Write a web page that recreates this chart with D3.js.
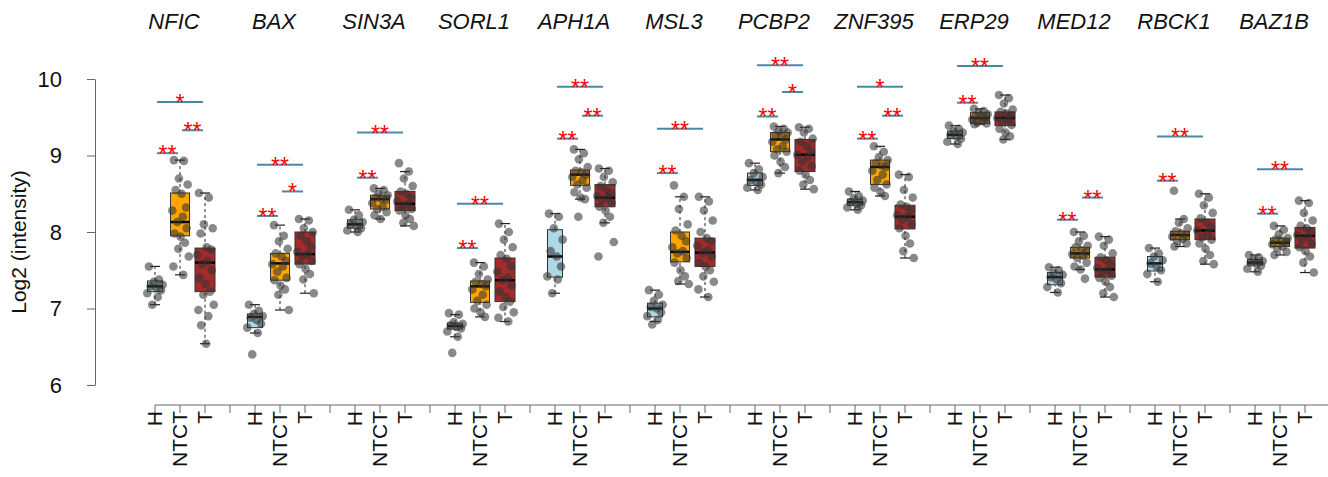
<!DOCTYPE html>
<html>
<head>
<meta charset="utf-8">
<script src="https://cdn.jsdelivr.net/npm/d3@7"></script>
<style>
  body { margin: 0; background: #fff; }
  text { font-family: "Liberation Sans", Arial, sans-serif; }
</style>
</head>
<body>
<svg id="chart" width="1328" height="477"></svg>
<script>
var genes = ["NFIC", "BAX", "SIN3A", "SORL1", "APH1A", "MSL3", "PCBP2", "ZNF395", "ERP29", "MED12", "RBCK1", "BAZ1B"];
var groups = ["H", "NTCT", "T"];
var yTicks = [6, 7, 8, 9, 10];

// box stats per gene: [lower whisker, q1, median, q3, upper whisker]
var statsH = [
    [7.05, 7.22, 7.29, 7.36, 7.55], [6.68, 6.75, 6.89, 6.93, 7.05], [8.00, 8.05, 8.10, 8.16, 8.29],
    [6.63, 6.73, 6.77, 6.81, 6.92], [7.20, 7.41, 7.68, 8.03, 8.24], [6.83, 6.89, 7.00, 7.07, 7.24],
    [8.55, 8.61, 8.68, 8.77, 8.90], [8.29, 8.35, 8.39, 8.43, 8.53], [9.15, 9.22, 9.27, 9.32, 9.39],
    [7.21, 7.31, 7.41, 7.47, 7.54], [7.35, 7.49, 7.59, 7.68, 7.79], [7.48, 7.57, 7.60, 7.64, 7.70]
];
var statsNTCT = [
    [7.44, 7.95, 8.13, 8.51, 8.94], [6.98, 7.37, 7.59, 7.72, 8.09], [8.17, 8.30, 8.43, 8.48, 8.57],
    [6.89, 7.08, 7.29, 7.36, 7.60], [8.43, 8.61, 8.75, 8.81, 9.08], [7.32, 7.61, 7.74, 8.00, 8.46],
    [8.77, 9.05, 9.21, 9.30, 9.38], [8.47, 8.62, 8.85, 8.94, 9.12], [9.41, 9.42, 9.49, 9.56, 9.61],
    [7.51, 7.66, 7.72, 7.80, 8.00], [7.81, 7.90, 7.96, 8.01, 8.17], [7.70, 7.81, 7.86, 7.92, 8.08]
];
var statsT = [
    [6.54, 7.22, 7.60, 7.79, 8.51], [7.20, 7.58, 7.71, 8.00, 8.17], [8.08, 8.28, 8.37, 8.53, 8.79],
    [6.83, 7.09, 7.37, 7.66, 8.11], [8.12, 8.33, 8.45, 8.62, 8.83], [7.15, 7.55, 7.73, 7.92, 8.46],
    [8.56, 8.79, 9.01, 9.21, 9.37], [7.66, 8.04, 8.20, 8.35, 8.75], [9.21, 9.39, 9.49, 9.57, 9.79],
    [7.15, 7.41, 7.51, 7.67, 7.94], [7.58, 7.90, 8.02, 8.17, 8.50], [7.47, 7.79, 7.95, 8.06, 8.41]
];

// individual samples per gene
var pointsH = [
    [7.55, 7.38, 7.35, 7.31, 7.29, 7.27, 7.24, 7.20, 7.15, 7.05],
    [7.05, 6.97, 6.93, 6.90, 6.88, 6.85, 6.80, 6.75, 6.68, 6.40],
    [8.29, 8.22, 8.16, 8.13, 8.10, 8.08, 8.05, 8.02, 8.00],
    [6.94, 6.92, 6.82, 6.80, 6.78, 6.76, 6.74, 6.70, 6.63, 6.42],
    [8.24, 8.20, 8.05, 7.90, 7.75, 7.68, 7.55, 7.42, 7.38, 7.20],
    [7.24, 7.18, 7.10, 7.05, 7.02, 7.00, 6.95, 6.90, 6.85, 6.79],
    [8.90, 8.82, 8.77, 8.72, 8.68, 8.65, 8.62, 8.58, 8.55],
    [8.53, 8.47, 8.44, 8.41, 8.39, 8.37, 8.35, 8.32, 8.29],
    [9.39, 9.35, 9.32, 9.30, 9.27, 9.25, 9.22, 9.18, 9.15],
    [7.54, 7.50, 7.47, 7.44, 7.41, 7.38, 7.33, 7.28, 7.21],
    [7.79, 7.72, 7.68, 7.63, 7.59, 7.55, 7.50, 7.45, 7.35],
    [7.70, 7.67, 7.64, 7.62, 7.60, 7.58, 7.56, 7.52, 7.48]
];
var pointsNTCT = [
    [8.94, 8.93, 8.70, 8.62, 8.55, 8.50, 8.32, 8.28, 8.20, 8.13, 8.05, 7.98, 7.94, 7.86, 7.78, 7.68, 7.55, 7.44],
    [8.09, 7.95, 7.88, 7.78, 7.72, 7.68, 7.62, 7.58, 7.55, 7.48, 7.40, 7.37, 7.30, 7.25, 7.18, 6.98],
    [8.57, 8.55, 8.50, 8.48, 8.45, 8.43, 8.42, 8.38, 8.33, 8.30, 8.26, 8.22, 8.17],
    [7.60, 7.55, 7.45, 7.38, 7.35, 7.32, 7.29, 7.25, 7.18, 7.10, 7.05, 7.00, 6.95, 6.89],
    [9.08, 9.03, 8.95, 8.85, 8.80, 8.78, 8.75, 8.72, 8.68, 8.62, 8.58, 8.52, 8.45, 8.43, 8.20],
    [8.61, 8.46, 8.30, 8.10, 8.02, 7.95, 7.88, 7.80, 7.75, 7.72, 7.66, 7.60, 7.50, 7.42, 7.36, 7.32],
    [9.38, 9.35, 9.32, 9.30, 9.27, 9.24, 9.21, 9.18, 9.12, 9.08, 9.05, 9.00, 8.92, 8.85, 8.77],
    [9.12, 9.05, 8.98, 8.94, 8.90, 8.87, 8.85, 8.80, 8.75, 8.68, 8.62, 8.58, 8.52, 8.47],
    [9.61, 9.58, 9.56, 9.54, 9.52, 9.50, 9.49, 9.47, 9.45, 9.43, 9.42, 9.41],
    [8.00, 7.95, 7.88, 7.82, 7.80, 7.76, 7.73, 7.71, 7.69, 7.66, 7.60, 7.55, 7.51, 7.39],
    [8.54, 8.17, 8.12, 8.05, 8.01, 7.98, 7.96, 7.94, 7.91, 7.88, 7.85, 7.81],
    [8.08, 8.03, 7.97, 7.92, 7.90, 7.88, 7.86, 7.84, 7.81, 7.78, 7.74, 7.70]
];
var pointsT = [
    [8.51, 8.45, 8.10, 8.05, 7.98, 7.80, 7.77, 7.70, 7.62, 7.58, 7.50, 7.40, 7.32, 7.22, 7.18, 7.05, 6.98, 6.90, 6.78, 6.54],
    [8.17, 8.15, 8.05, 8.00, 7.95, 7.88, 7.80, 7.74, 7.71, 7.68, 7.62, 7.58, 7.52, 7.45, 7.38, 7.20],
    [8.90, 8.79, 8.70, 8.60, 8.53, 8.50, 8.45, 8.40, 8.37, 8.33, 8.30, 8.28, 8.22, 8.17, 8.12, 8.08],
    [8.11, 8.00, 7.90, 7.80, 7.70, 7.65, 7.55, 7.48, 7.40, 7.37, 7.30, 7.22, 7.15, 7.09, 7.02, 6.95, 6.88, 6.83],
    [8.83, 8.80, 8.72, 8.65, 8.60, 8.55, 8.50, 8.47, 8.45, 8.42, 8.38, 8.33, 8.28, 8.20, 8.12, 7.87, 7.68],
    [8.46, 8.40, 8.28, 8.15, 8.00, 7.92, 7.88, 7.82, 7.76, 7.73, 7.68, 7.60, 7.55, 7.50, 7.42, 7.35, 7.25, 7.15],
    [9.37, 9.35, 9.30, 9.22, 9.18, 9.12, 9.05, 9.01, 8.98, 8.92, 8.86, 8.80, 8.75, 8.68, 8.62, 8.56],
    [8.75, 8.72, 8.55, 8.45, 8.36, 8.33, 8.28, 8.22, 8.20, 8.16, 8.10, 8.05, 7.95, 7.85, 7.75, 7.66],
    [9.79, 9.75, 9.68, 9.60, 9.57, 9.55, 9.52, 9.49, 9.47, 9.44, 9.40, 9.35, 9.30, 9.25, 9.21],
    [7.94, 7.90, 7.82, 7.72, 7.67, 7.63, 7.58, 7.53, 7.50, 7.47, 7.43, 7.40, 7.35, 7.28, 7.20, 7.15],
    [8.50, 8.45, 8.35, 8.25, 8.18, 8.12, 8.06, 8.02, 7.98, 7.93, 7.90, 7.85, 7.78, 7.70, 7.62, 7.58],
    [8.41, 8.38, 8.25, 8.15, 8.08, 8.05, 8.00, 7.96, 7.94, 7.90, 7.85, 7.80, 7.75, 7.68, 7.60, 7.47]
];

// significance brackets per gene: [from group, to group, bar level, label]
var sigBars = [
    [[0, 1, 9.03, "**"], [1, 2, 9.33, "**"], [0, 2, 9.70, "*"]],
    [[0, 1, 8.21, "**"], [1, 2, 8.53, "*"], [0, 2, 8.88, "**"]],
    [[0, 1, 8.71, "**"], [0, 2, 9.30, "**"]],
    [[0, 1, 7.79, "**"], [0, 2, 8.37, "**"]],
    [[0, 1, 9.22, "**"], [1, 2, 9.52, "**"], [0, 2, 9.90, "**"]],
    [[0, 1, 8.77, "**"], [0, 2, 9.35, "**"]],
    [[0, 1, 9.51, "**"], [1, 2, 9.83, "*"], [0, 2, 10.18, "**"]],
    [[0, 1, 9.22, "**"], [1, 2, 9.52, "**"], [0, 2, 9.90, "*"]],
    [[0, 1, 9.69, "**"], [0, 2, 10.17, "**"]],
    [[0, 1, 8.16, "**"], [1, 2, 8.45, "**"]],
    [[0, 1, 8.67, "**"], [0, 2, 9.25, "**"]],
    [[0, 1, 8.24, "**"], [0, 2, 8.82, "**"]]
];

var fills = ["#add8e6", "#ffa500", "#a52a2a"];
var boxWidths = [15, 19, 20];
var jitter = [-0.55, 0.35, -0.1, 0.7, -0.4, 0.15, 0.55, -0.7, 0.25, -0.25, 0.6, -0.5, 0.05, 0.45, -0.15, 0.8, -0.6, 0.3, -0.35, 0.1];

var svg = d3.select("#chart");
var x = d3.scaleLinear().domain([0, 47]).range([155, 1330]);
var y = d3.scaleLinear().domain([6, 10]).range([385, 79]);
var slot = function (g, k) { return g * 4 + k; };

// y axis
var yAxis = svg.append("g").attr("transform", "translate(95,0)")
    .call(d3.axisLeft(y).tickValues(yTicks).tickFormat(d3.format("d"))
        .tickSize(8).tickSizeOuter(0).tickPadding(25));
yAxis.select(".domain").attr("stroke", "#666");
yAxis.selectAll(".tick line").attr("stroke", "#666");
yAxis.selectAll(".tick text").attr("font-size", 22).attr("fill", "#111")
    .attr("font-family", "Liberation Sans, Arial, sans-serif");

svg.append("text")
    .attr("transform", "translate(26,242) rotate(-90)")
    .attr("text-anchor", "middle")
    .attr("font-size", 21)
    .attr("fill", "#111")
    .text("Log2 (intensity)");

// x axis
var xAxis = svg.append("g");
xAxis.append("line").attr("x1", x(0)).attr("x2", x(47)).attr("y1", 405).attr("y2", 405).attr("stroke", "#666");
xAxis.selectAll(".xt").data(d3.range(48)).enter().append("line")
    .attr("x1", function (d) { return x(d); }).attr("x2", function (d) { return x(d); })
    .attr("y1", 405).attr("y2", 413).attr("stroke", "#666");
genes.forEach(function (gene, g) {
    groups.forEach(function (grp, k) {
        xAxis.append("text")
            .attr("transform", "translate(" + x(slot(g, k)) + ",411) rotate(-90)")
            .attr("text-anchor", "end")
            .attr("dy", "0.35em")
            .attr("font-size", 21)
            .attr("fill", "#111")
            .text(grp);
    });
    svg.append("text")
        .attr("x", x(slot(g, 1)) - 6)
        .attr("y", 29)
        .attr("text-anchor", "middle")
        .attr("font-size", 22)
        .attr("font-style", "italic")
        .attr("fill", "#111")
        .text(gene);
});

// boxes
var allStats = [statsH, statsNTCT, statsT];
var allPoints = [pointsH, pointsNTCT, pointsT];
genes.forEach(function (gene, g) {
    for (var k = 0; k < 3; k++) {
        var s = allStats[k][g], cx = x(slot(g, k)), w = boxWidths[k];
        var box = svg.append("g");
        box.append("line").attr("x1", cx).attr("x2", cx).attr("y1", y(s[0])).attr("y2", y(s[1]))
            .attr("stroke", "#222").attr("stroke-dasharray", "3,3");
        box.append("line").attr("x1", cx).attr("x2", cx).attr("y1", y(s[3])).attr("y2", y(s[4]))
            .attr("stroke", "#222").attr("stroke-dasharray", "3,3");
        [s[0], s[4]].forEach(function (v) {
            box.append("line").attr("x1", cx - 5).attr("x2", cx + 5).attr("y1", y(v)).attr("y2", y(v))
                .attr("stroke", "#222").attr("stroke-width", 1.2);
        });
        box.append("rect").attr("x", cx - w / 2).attr("y", y(s[3]))
            .attr("width", w).attr("height", y(s[1]) - y(s[3]))
            .attr("fill", fills[k]).attr("stroke", "#333").attr("stroke-width", 1);
        box.append("line").attr("x1", cx - w / 2).attr("x2", cx + w / 2).attr("y1", y(s[2])).attr("y2", y(s[2]))
            .attr("stroke", "#000").attr("stroke-width", 2.5);
    }
});

// jittered samples
genes.forEach(function (gene, g) {
    for (var k = 0; k < 3; k++) {
        var cx = x(slot(g, k));
        svg.append("g").selectAll("circle").data(allPoints[k][g]).enter().append("circle")
            .attr("cx", function (d, i) { return cx + jitter[i % jitter.length] * 11; })
            .attr("cy", function (d) { return y(d); })
            .attr("r", 4.3)
            .attr("fill", "#333")
            .attr("fill-opacity", 0.58);
    }
});

// significance bars
genes.forEach(function (gene, g) {
    sigBars[g].forEach(function (b) {
        var x1 = x(slot(g, b[0])) + 2, x2 = x(slot(g, b[1])) - 2, yy = y(b[2]);
        svg.append("line").attr("x1", x1).attr("x2", x2).attr("y1", yy).attr("y2", yy)
            .attr("stroke", "#4a88a8").attr("stroke-width", 2);
        svg.append("text").attr("x", (x1 + x2) / 2).attr("y", yy + 9)
            .attr("text-anchor", "middle").attr("font-size", 23).attr("fill", "#ff0000")
            .text(b[3]);
    });
});
</script>
</body>
</html>
